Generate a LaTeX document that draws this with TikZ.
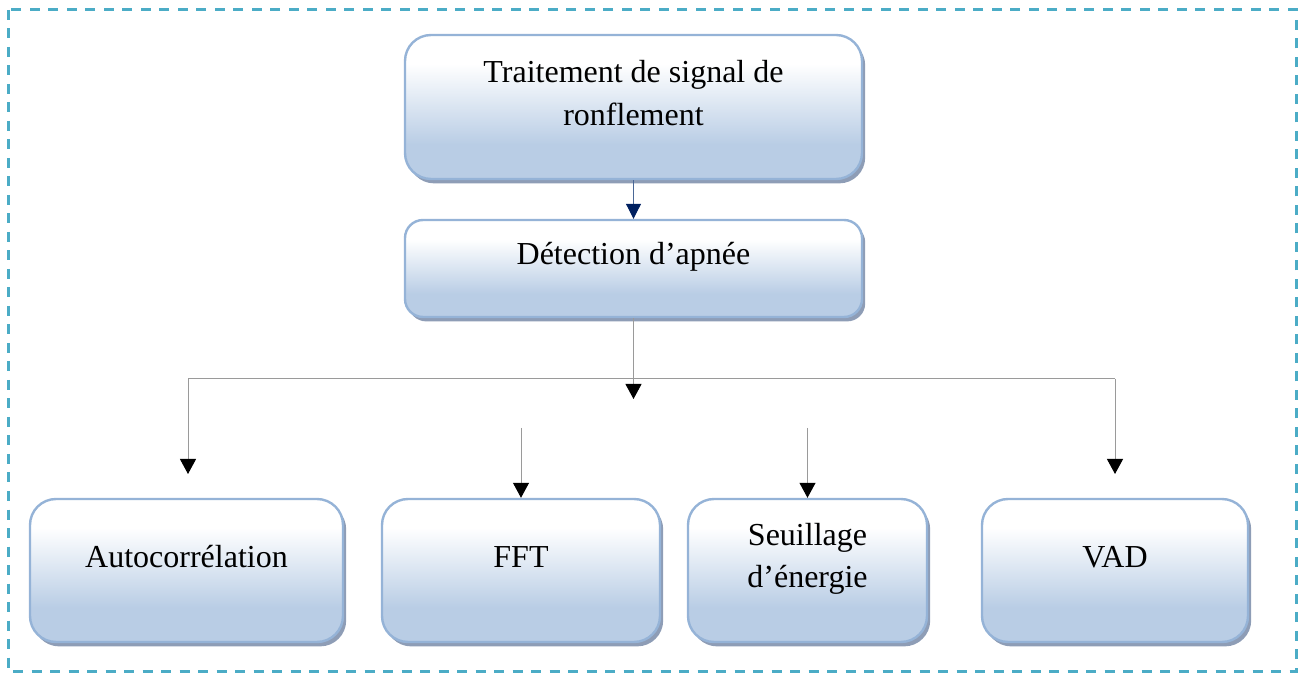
\documentclass[tikz,border=0pt]{standalone}
\usepackage{fontspec}
\setmainfont{Liberation Serif}
\usetikzlibrary{arrows.meta,shadows,positioning}

\definecolor{boxedge}{HTML}{95B3D7}
\definecolor{boxfill}{HTML}{B9CDE5}
\definecolor{boxshade}{HTML}{8E9DB6}
\definecolor{framecyan}{HTML}{4BACC6}
\definecolor{linkgray}{HTML}{9A9A9A}
\definecolor{linknavy}{HTML}{002060}
\definecolor{navyline}{HTML}{4A6796}

\pgfdeclareverticalshading{boxfade}{100bp}{color(0bp)=(boxfill); color(37bp)=(boxfill); color(65bp)=(white); color(100bp)=(white)}

\tikzset{
  bloc/.style={draw=boxedge, line width=1.2pt, rounded corners=13pt, shade, shading=boxfade,
    drop shadow={shadow xshift=1.6pt, shadow yshift=-2.2pt, fill=boxshade, opacity=1}, inner sep=0pt},
  unetexte/.style={text height=11pt, text depth=4pt, yshift=5.25pt},
  trait/.style={draw=linkgray, line width=0.5pt},
  fleche/.style={trait, -{Triangle[width=8pt,length=7.5pt,color=black]}},
  flechenavy/.style={draw=navyline, line width=0.5pt, -{Triangle[width=7.5pt,length=7.5pt,color=linknavy]}},
  cadre/.style={draw=framecyan, line width=1.5pt, dash pattern=on 5pt off 4.25pt}
}

\begin{document}
\begin{tikzpicture}[x=0.5pt, y=-0.5pt, font=\fontsize{16pt}{21.5pt}\selectfont]
  \useasboundingbox (0,0) rectangle (1301,673);
  \draw[cadre] (8,10) rectangle (1296,671);

  % blocs du haut
  \node (traite) [bloc, minimum width=228.5pt, minimum height=72pt,
    label={[name=traite-t, align=center, yshift=7.2pt]center:Traitement de signal de\\ronflement}] at (633.5,107) {};
  \node (detect) [bloc, rounded corners=9pt, minimum width=228.5pt, minimum height=48.5pt,
    label={[name=detect-t, unetexte]center:Détection d’apnée}] at (633.5,268.5) {};

  % blocs du bas
  \node (autoc) [bloc, minimum width=156.5pt, minimum height=71.5pt,
    label={[name=autoc-t, unetexte]center:Autocorrélation}] at (186.5,570.5) {};
  \node (fft) [bloc, minimum width=139pt, minimum height=71.5pt,
    label={[name=fft-t, unetexte]center:FFT}] at (521,570.5) {};
  \node (seuil) [bloc, minimum width=119.5pt, minimum height=71.5pt,
    label={[name=seuil-t, align=center, yshift=6pt]center:Seuillage\\[-0.5pt]d’énergie}] at (807.5,570.5) {};
  \node (vad) [bloc, minimum width=133pt, minimum height=71.5pt,
    label={[name=vad-t, unetexte]center:VAD}] at (1115,570.5) {};

  % liaisons
  \coordinate (fourche) at (633.5,399);
  \coordinate (barre-g) at (188,379);
  \coordinate (barre-d) at (1115,379);
  \coordinate (autoc-in) at (188,474);
  \coordinate (vad-in) at (1115,474);
  \coordinate (fft-in) at (521,428);
  \coordinate (seuil-in) at (807.5,428);

  \draw[flechenavy] (traite) -- (detect);
  \draw[fleche] (detect) -- (fourche);
  \draw[trait] (barre-g) -- (barre-d);
  \draw[fleche] (barre-g) -- (autoc-in);
  \draw[fleche] (barre-d) -- (vad-in);
  \draw[fleche] (fft-in) -- (fft);
  \draw[fleche] (seuil-in) -- (seuil);
\end{tikzpicture}
\end{document}
